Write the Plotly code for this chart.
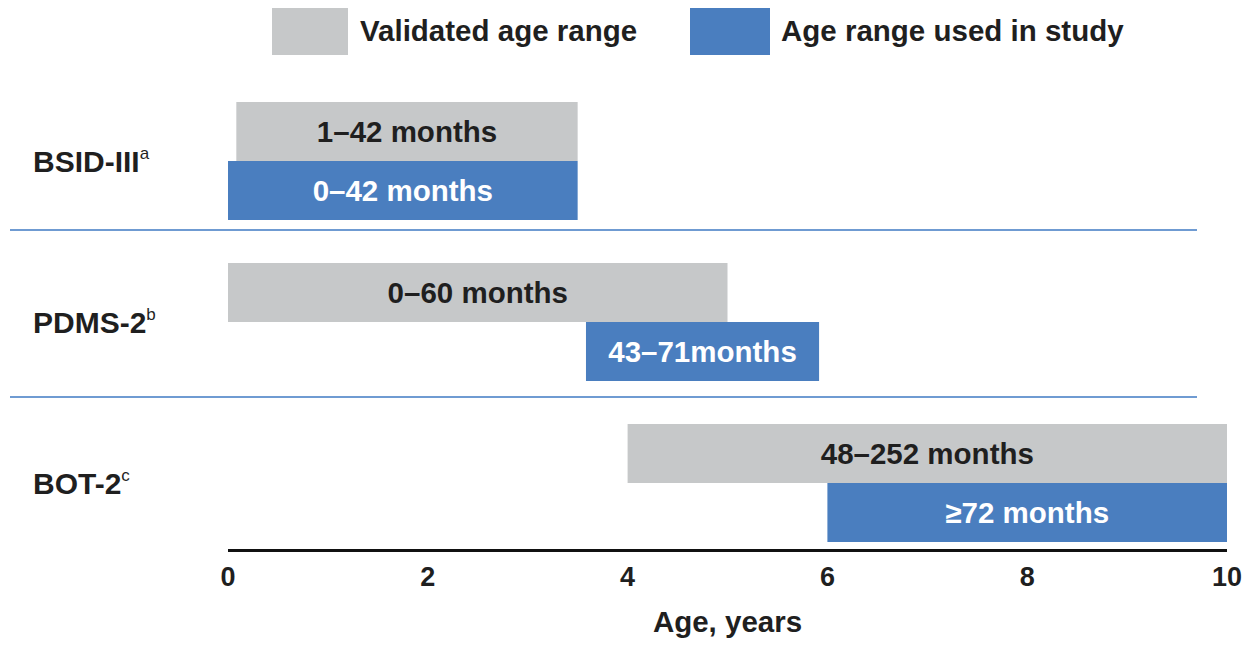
import plotly.graph_objects as go

# ---- data ----
instruments = ["BSID-III", "PDMS-2", "BOT-2"]
superscripts = ["a", "b", "c"]
validated_start_months = [1, 0, 48]
validated_end_months = [42, 60, 252]
validated_labels = ["1–42 months", "0–60 months", "48–252 months"]
study_start_months = [0, 43, 72]
study_end_months = [42, 71, None]  # open-ended (≥72 months)
study_labels = ["0–42 months", "43–71months", "≥72 months"]
tick_years = [0, 2, 4, 6, 8, 10]
legend_names = ["Validated age range", "Age range used in study"]

# ---- style ----
GRAY = "#C6C8C9"
BLUE = "#4A7EBF"
TXT = "#1f1f1f"
FONT = "Liberation Sans, Arial, sans-serif"
X_MAX = 10
OFF = 8  # default page body margin
W, H = 1257 - 2 * OFF, 646 - 2 * OFF
ML = 228 - OFF
PLOT_W = 999
MR = W - ML - PLOT_W
MT = 90 - OFF
MB = H - (549 - OFF)
PLOT_H = H - MT - MB

def yrs(m):
    return m / 12.0

def row_center(i):
    n = len(instruments)
    return 66 + 161 * (n - 1 - i)

BAR_W = 59
half = BAR_W / 2

v_start = [yrs(s) for s in validated_start_months]
v_end = [min(yrs(e), X_MAX) for e in validated_end_months]
s_start = [yrs(s) for s in study_start_months]
s_end = [X_MAX if e is None else min(yrs(e), X_MAX) for e in study_end_months]

y_gray = [row_center(i) + half for i in range(len(instruments))]
y_blue = [row_center(i) - half for i in range(len(instruments))]

fig = go.Figure()
fig.add_trace(go.Bar(
    orientation="h", y=y_gray, base=v_start,
    x=[e - s for s, e in zip(v_start, v_end)],
    width=BAR_W, marker=dict(color=GRAY, line=dict(width=0)),
    text=[f"<b>{t}</b>" for t in validated_labels],
    textposition="inside", insidetextanchor="middle",
    textfont=dict(family=FONT, size=29.5, color=TXT), constraintext="none",
    name=legend_names[0], showlegend=False, hoverinfo="skip",
))
fig.add_trace(go.Bar(
    orientation="h", y=y_blue, base=s_start,
    x=[e - s for s, e in zip(s_start, s_end)],
    width=BAR_W, marker=dict(color=BLUE, line=dict(width=0)),
    text=[f"<b>{t}</b>" for t in study_labels],
    textposition="inside", insidetextanchor="middle",
    textfont=dict(family=FONT, size=29.5, color="white"), constraintext="none",
    name=legend_names[1], showlegend=False, hoverinfo="skip",
))

def px_to_paper_x(px):
    return (px - OFF - ML) / PLOT_W

def py_to_paper_y(py):
    return (H - MB - (py - OFF)) / PLOT_H

shapes = []
annotations = []

# row dividers
for ypx in [230, 397]:
    shapes.append(dict(type="line", xref="paper", yref="paper",
                       x0=px_to_paper_x(10), x1=px_to_paper_x(1197),
                       y0=py_to_paper_y(ypx), y1=py_to_paper_y(ypx),
                       line=dict(color="#6F9BD2", width=2)))

# category labels
for i, (name, sup) in enumerate(zip(instruments, superscripts)):
    annotations.append(dict(
        x=px_to_paper_x(31), xref="paper", y=row_center(i), yref="y",
        xanchor="left", yanchor="middle", showarrow=False,
        text=f"<b>{name}</b><sup><span style='font-size:17px'>{sup}</span></sup>",
        font=dict(family=FONT, size=30, color=TXT)))

# legend swatches and texts
legend_items = [(GRAY, 272, 348, 358), (BLUE, 690, 770, 779)]
for (col, x0, x1, tx), label in zip(legend_items, legend_names):
    shapes.append(dict(type="rect", xref="paper", yref="paper",
                       x0=px_to_paper_x(x0), x1=px_to_paper_x(x1),
                       y0=py_to_paper_y(55), y1=py_to_paper_y(6),
                       fillcolor=col, line=dict(width=0)))
    annotations.append(dict(
        x=px_to_paper_x(tx), xref="paper", y=py_to_paper_y(30), yref="paper",
        xanchor="left", yanchor="middle", showarrow=False,
        text=f"<b>{label}</b>", font=dict(family=FONT, size=29.5, color=TXT)))

fig.update_layout(
    width=W, height=H, margin=dict(l=ML, r=MR, t=MT, b=MB, autoexpand=False),
    paper_bgcolor="white", plot_bgcolor="white",
    barmode="overlay", showlegend=False,
    shapes=shapes, annotations=annotations,
    font=dict(family=FONT, color=TXT),
    xaxis=dict(range=[0, X_MAX], tickvals=tick_years,
               ticktext=[f"<b>{t}</b>" for t in tick_years],
               tickfont=dict(family=FONT, size=27, color=TXT),
               showgrid=False, zeroline=False, automargin=False,
               showline=True, linecolor="#111", linewidth=3,
               ticks="outside", ticklen=2, tickcolor="rgba(0,0,0,0)",
               title=dict(text="<b>Age, years</b>", standoff=24,
                          font=dict(family=FONT, size=29.5, color=TXT))),
    yaxis=dict(range=[0, PLOT_H], visible=False, fixedrange=True,
               automargin=False),
)

fig.write_html("out.html")
